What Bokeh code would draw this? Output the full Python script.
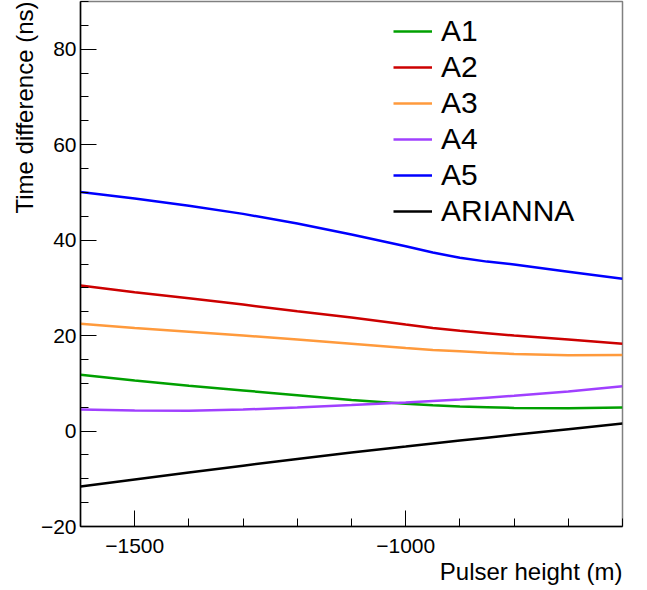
from bokeh.plotting import figure
from bokeh.models import FixedTicker, Legend, LegendItem, Title, Range1d
from bokeh.embed import file_html
from bokeh.resources import INLINE

# Data
heights = [-1600, -1500, -1400, -1300, -1200, -1100, -1000, -950, -900, -850, -800, -700, -600]
a1 = [11.8, 10.6, 9.5, 8.5, 7.5, 6.5, 5.7, 5.4, 5.15, 5.0, 4.85, 4.8, 4.95]
a2 = [30.5, 29.1, 27.8, 26.5, 25.1, 23.8, 22.3, 21.6, 21.0, 20.5, 20.0, 19.2, 18.3]
a3 = [22.5, 21.6, 20.8, 20.0, 19.2, 18.3, 17.4, 17.0, 16.7, 16.4, 16.15, 15.9, 15.95]
a4 = [4.5, 4.3, 4.25, 4.5, 4.95, 5.45, 6.0, 6.3, 6.6, 7.0, 7.4, 8.3, 9.4]
a5 = [50.1, 48.7, 47.2, 45.5, 43.5, 41.2, 38.7, 37.4, 36.3, 35.5, 34.9, 33.4, 31.9]
arianna = [-11.6, -10.15, -8.7, -7.25, -5.85, -4.5, -3.25, -2.6, -2.0, -1.4, -0.8, 0.4, 1.6]

names = ["A1", "A2", "A3", "A4", "A5", "ARIANNA"]
series = [a1, a2, a3, a4, a5, arianna]
colors = ["#00a000", "#cc0000", "#ff9a3c", "#a040ff", "#0000ff", "#000000"]

x_major = [-1500, -1000]
x_minor = list(range(-1600, -599, 100))
y_major = [-20, 0, 20, 40, 60, 80]
y_minor = list(range(-20, 91, 5))

FONT = "Liberation Sans"

p = figure(width=647, height=589, x_range=Range1d(-1600, -600), y_range=Range1d(-20, 90),
           output_backend="svg", toolbar_location=None,
           min_border_left=80, min_border_right=25, min_border_top=1, min_border_bottom=63)
p.grid.visible = False
p.outline_line_color = "#808080"
p.outline_line_width = 1.5
p.background_fill_color = "white"
p.border_fill_color = "white"

for ax in (p.xaxis[0], p.yaxis[0]):
    ax.axis_line_color = "black"
    ax.axis_line_width = 1.5
    ax.major_tick_in = 16
    ax.major_tick_out = 0
    ax.minor_tick_in = 8
    ax.minor_tick_out = 0
    ax.major_tick_line_color = "black"
    ax.minor_tick_line_color = "black"
    ax.major_label_text_font = FONT
    ax.major_label_text_font_size = "21px"
    ax.major_label_text_color = "black"

p.xaxis.ticker = FixedTicker(ticks=x_major, minor_ticks=x_minor)
p.yaxis.ticker = FixedTicker(ticks=y_major, minor_ticks=y_minor)
p.xaxis.major_label_overrides = {v: ("\u2212" + str(abs(v)) if v < 0 else str(v)) for v in x_major}
p.yaxis.major_label_overrides = {v: ("\u2212" + str(abs(v)) if v < 0 else str(v)) for v in y_major}
p.xaxis.major_label_standoff = 12
p.yaxis.major_label_standoff = 4

p.add_layout(Title(text="Pulser height (m)", align="right", text_font=FONT, text_color="black",
                   text_font_size="24px", text_font_style="normal", standoff=0), "below")
p.add_layout(Title(text="Time difference (ns)", align="right", text_font=FONT, text_color="black",
                   text_font_size="24px", text_font_style="normal", standoff=0), "left")

items = []
for name, ys, c in zip(names, series, colors):
    r = p.line(heights, ys, line_color=c, line_width=2.5)
    items.append(LegendItem(label=name, renderers=[r]))

legend = Legend(items=items, location=(313, 297), label_text_font=FONT, label_text_color="black",
                label_text_font_size="30px", glyph_width=39, glyph_height=36,
                label_height=36, label_standoff=9, spacing=0, padding=0, margin=0,
                border_line_color=None, background_fill_alpha=0)
p.add_layout(legend)

open("out.html", "w").write(file_html(p, INLINE))
